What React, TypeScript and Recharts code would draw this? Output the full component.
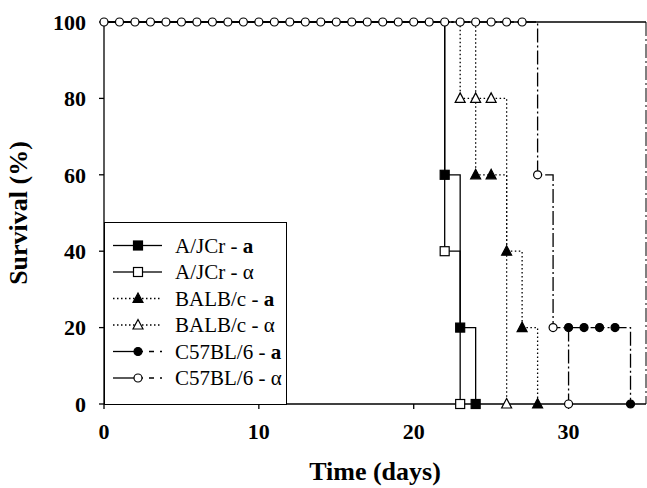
import React from 'react';
import { LineChart, Line, XAxis, YAxis, Legend } from 'recharts';

const FONT = '"Liberation Serif", "Times New Roman", serif';

const dayTicks = [0, 10, 20, 30];
const survivalTicks = [0, 20, 40, 60, 80, 100];

// survival (%), one point per visible step
const ajcrA = [
  { day: 0, s: 100 }, { day: 22, s: 60 }, { day: 23, s: 20 }, { day: 24, s: 0 },
];
const ajcrAlpha = [
  { day: 0, s: 100 }, { day: 22, s: 40 }, { day: 23, s: 0 },
];
const balbA = [
  { day: 0, s: 100 }, { day: 24, s: 60 }, { day: 25, s: 60 }, { day: 26, s: 40 },
  { day: 27, s: 20 }, { day: 28, s: 0 },
];
const balbAlpha = [
  { day: 0, s: 100 }, { day: 23, s: 80 }, { day: 24, s: 80 }, { day: 25, s: 80 },
  { day: 26, s: 0 },
];
const c57aTop = [{ day: 0, s: 100 }, { day: 35, s: 100 }];
const c57aDrop = [{ day: 35, s: 100 }, { day: 35, s: 0 }];
const c57aLate = [
  { day: 30, s: 20 }, { day: 31, s: 20 }, { day: 32, s: 20 }, { day: 33, s: 20 },
  { day: 34, s: 0 },
];
const c57Alpha = [
  { day: 0, s: 100 }, { day: 1, s: 100 }, { day: 2, s: 100 }, { day: 3, s: 100 },
  { day: 4, s: 100 }, { day: 5, s: 100 }, { day: 6, s: 100 }, { day: 7, s: 100 },
  { day: 8, s: 100 }, { day: 9, s: 100 }, { day: 10, s: 100 }, { day: 11, s: 100 },
  { day: 12, s: 100 }, { day: 13, s: 100 }, { day: 14, s: 100 }, { day: 15, s: 100 },
  { day: 16, s: 100 }, { day: 17, s: 100 }, { day: 18, s: 100 }, { day: 19, s: 100 },
  { day: 20, s: 100 }, { day: 21, s: 100 }, { day: 22, s: 100 }, { day: 23, s: 100 },
  { day: 24, s: 100 }, { day: 25, s: 100 }, { day: 26, s: 100 }, { day: 27, s: 100 },
  { day: 28, s: 60 }, { day: 29, s: 20 }, { day: 30, s: 0 },
];

const DOTTED = '1.5 2.5';
const DASHDOT = '14 3 2 3';

type Shape = 'square' | 'triangle' | 'circle';

function Marker({ shape, filled, x, y }: { shape: Shape; filled: boolean; x: number; y: number }) {
  const fill = filled ? '#000' : '#fff';
  if (shape === 'square')
    return <rect x={x - 4.5} y={y - 4.5} width={9} height={9} fill={fill} stroke="#000" strokeWidth={1.2} />;
  if (shape === 'triangle')
    return <polygon points={`${x},${y - 5.5} ${x - 5},${y + 4} ${x + 5},${y + 4}`} fill={fill} stroke="#000" strokeWidth={1.2} />;
  return <circle cx={x} cy={y} r={4} fill={fill} stroke="#000" strokeWidth={1.2} />;
}

// markers at 100% are hidden under the open circles of the last series
const makeDot = (shape: Shape, filled: boolean, skipTop: boolean) => (props: any) => {
  const { cx, cy, payload, index } = props;
  if (cx == null || cy == null || (skipTop && payload.s === 100)) return <g key={index} />;
  return <g key={index}><Marker shape={shape} filled={filled} x={cx} y={cy} /></g>;
};

const legendItems: { strain: string; antigen: string; shape: Shape; filled: boolean; left?: string; right?: string }[] = [
  { strain: 'A/JCr', antigen: 'a', shape: 'square', filled: true },
  { strain: 'A/JCr', antigen: 'α', shape: 'square', filled: false },
  { strain: 'BALB/c', antigen: 'a', shape: 'triangle', filled: true, left: DOTTED, right: DOTTED },
  { strain: 'BALB/c', antigen: 'α', shape: 'triangle', filled: false, left: DOTTED, right: DOTTED },
  { strain: 'C57BL/6', antigen: 'a', shape: 'circle', filled: true, right: '5 6' },
  { strain: 'C57BL/6', antigen: 'α', shape: 'circle', filled: false, right: '5 6' },
];

function LegendBox() {
  return (
    <svg width={183} height={183} style={{ display: 'block' }}>
      <rect x={0.5} y={0.5} width={182} height={182} fill="#fff" stroke="#000" strokeWidth={1} />
      {legendItems.map((it, i) => {
        const y = 23.5 + i * 26.5;
        return (
          <g key={i}>
            <line x1={9} x2={34} y1={y} y2={y} stroke="#000" strokeWidth={1.3} strokeDasharray={it.left} />
            <line x1={34} x2={58} y1={y} y2={y} stroke="#000" strokeWidth={1.3} strokeDasharray={it.right} />
            <Marker shape={it.shape} filled={it.filled} x={34} y={y} />
            <text x={71} y={y + 7} fontFamily={FONT} fontSize={21} fill="#000">
              {it.strain} - {it.antigen === 'a' ? <tspan fontWeight="bold">a</tspan> : it.antigen}
            </text>
          </g>
        );
      })}
    </svg>
  );
}

const tickStyle = { fontSize: 22, fontWeight: 'bold', fill: '#000', fontFamily: FONT };
const titleStyle = { fontSize: 26, fontWeight: 'bold', fill: '#000', fontFamily: FONT };

export default function App() {
  return (
    <div style={{ position: 'absolute', left: 0, top: 0, background: '#fff' }}>
      <LineChart width={647} height={488} margin={{ top: 22, right: 1, bottom: 34, left: 0 }}>
        <XAxis
          type="number"
          dataKey="day"
          domain={[0, 35]}
          ticks={dayTicks}
          height={50}
          tickSize={5}
          tickMargin={14}
          stroke="#000"
          strokeWidth={1.3}
          tick={tickStyle}
          label={{ value: 'Time (days)', position: 'bottom', offset: 8, style: { ...titleStyle } }}
        />
        <YAxis
          type="number"
          domain={[0, 100]}
          ticks={survivalTicks}
          width={104}
          tickSize={5}
          tickMargin={13}
          stroke="#000"
          strokeWidth={1.3}
          tick={tickStyle}
          label={{ value: 'Survival (%)', angle: -90, position: 'insideLeft', offset: 25, dx: -7, style: { ...titleStyle, textAnchor: 'middle' } }}
        />
        <Legend
          layout="vertical"
          align="center"
          verticalAlign="middle"
          content={() => <LegendBox />}
          wrapperStyle={{ position: 'absolute', left: 104, top: 222, width: 183, height: 183 }}
        />
        <Line data={ajcrA} dataKey="s" type="stepAfter" stroke="#000" strokeWidth={1.3}
          dot={makeDot('square', true, true)} activeDot={false} isAnimationActive={false} />
        <Line data={ajcrAlpha} dataKey="s" type="stepAfter" stroke="#000" strokeWidth={1.3}
          dot={makeDot('square', false, true)} activeDot={false} isAnimationActive={false} />
        <Line data={balbA} dataKey="s" type="stepAfter" stroke="#000" strokeWidth={1.3} strokeDasharray={DOTTED}
          dot={makeDot('triangle', true, true)} activeDot={false} isAnimationActive={false} />
        <Line data={balbAlpha} dataKey="s" type="stepAfter" stroke="#000" strokeWidth={1.3} strokeDasharray={DOTTED}
          dot={makeDot('triangle', false, true)} activeDot={false} isAnimationActive={false} />
        <Line data={c57aTop} dataKey="s" type="stepAfter" stroke="#000" strokeWidth={1.3}
          dot={false} activeDot={false} isAnimationActive={false} />
        <Line data={c57aDrop} dataKey="s" type="linear" stroke="#000" strokeWidth={1} strokeDasharray={DASHDOT}
          dot={false} activeDot={false} isAnimationActive={false} />
        <Line data={c57aLate} dataKey="s" type="stepAfter" stroke="#000" strokeWidth={1.3} strokeDasharray={DASHDOT}
          dot={makeDot('circle', true, true)} activeDot={false} isAnimationActive={false} />
        <Line data={c57Alpha} dataKey="s" type="stepAfter" stroke="#000" strokeWidth={1.3} strokeDasharray={DASHDOT}
          dot={makeDot('circle', false, false)} activeDot={false} isAnimationActive={false} />
      </LineChart>
    </div>
  );
}
